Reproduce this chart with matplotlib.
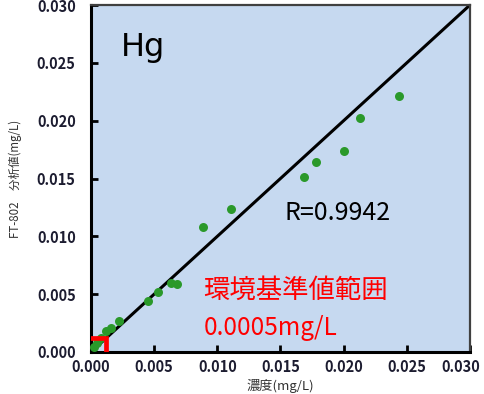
import numpy as np
import matplotlib
matplotlib.use("Agg")
import matplotlib.pyplot as plt
import matplotlib.transforms as mtransforms

plt.rcParams['font.family'] = ['Noto Sans CJK JP', 'DejaVu Sans']

# concentration (mg/L) vs FT-802 measured value (mg/L)
conc = [0.0002, 0.00045, 0.0008, 0.0012, 0.0016, 0.0022, 0.0045, 0.0053,
        0.0063, 0.0068, 0.0089, 0.0111, 0.0169, 0.0178, 0.0200, 0.0213, 0.0244]
measured = [0.0004, 0.00075, 0.0012, 0.0018, 0.0021, 0.0027, 0.0044, 0.0052,
            0.0060, 0.0059, 0.0108, 0.0124, 0.0151, 0.0164, 0.0174, 0.0202, 0.0221]

line_x = [0.0, 0.030]
limit_box = 0.0012  # red corner marking the standard range, as drawn
r_text = "R=0.9942"
ticks = [0.000, 0.005, 0.010, 0.015, 0.020, 0.025, 0.030]

fig = plt.figure(figsize=(4.84, 3.94), dpi=100)
ax = fig.add_axes([0.188, 0.1066, 0.783, 0.8807])
ax.set_facecolor("#c6d9f0")

ax.plot(line_x, line_x, color="black", lw=2.2, zorder=2)
ax.scatter(conc, measured, s=42, color="#2a992a", zorder=3, clip_on=False, linewidths=0)
ax.plot([0, limit_box, limit_box], [limit_box, limit_box, 0], color="red", lw=3.4,
        solid_joinstyle="miter", zorder=4)

ax.set_xlim(0, 0.030)
ax.set_ylim(0, 0.030)
ax.set_xticks(ticks)
ax.set_yticks(ticks)
ax.set_xticklabels([f"{t:.3f}" for t in ticks], fontsize=10.5, fontweight="bold", color="#1c1c30")
ax.set_yticklabels([f"{t:.3f}" for t in ticks], fontsize=10.5, fontweight="bold", color="#1c1c30")
ax.tick_params(direction="in", length=5, width=2)
ax.tick_params(axis="x", pad=5)
ax.tick_params(axis="y", pad=11)

# last x label is pushed left to stay inside the picture
last = ax.get_xticklabels()[-1]
last.set_transform(last.get_transform() + mtransforms.ScaledTranslation(-9 / 100, 0, fig.dpi_scale_trans))

for side in ["left", "bottom"]:
    ax.spines[side].set_linewidth(2.2)
    ax.spines[side].set_color("black")
for side in ["top", "right"]:
    ax.spines[side].set_linewidth(1.6)
    ax.spines[side].set_color("#404040")

ax.set_xlabel("濃度(mg/L)", fontsize=9.5, color="#333333", labelpad=3)
ax.set_ylabel("FT-802\u3000分析値(mg/L)", fontsize=8.3, color="#333333", labelpad=11)

ax.text(0.0041, 0.0263, "Hg", fontsize=23, family="DejaVu Sans", ha="center", va="center")
ax.text(0.0153, 0.0120, r_text, fontsize=18, ha="left", va="center")
ax.text(0.0089, 0.0053, "環境基準値範囲", fontsize=19, color="red", ha="left", va="center")
ax.text(0.0089, 0.0021, "0.0005mg/L", fontsize=17.5, color="red", ha="left", va="center")

fig.savefig("out.png", dpi=100)
